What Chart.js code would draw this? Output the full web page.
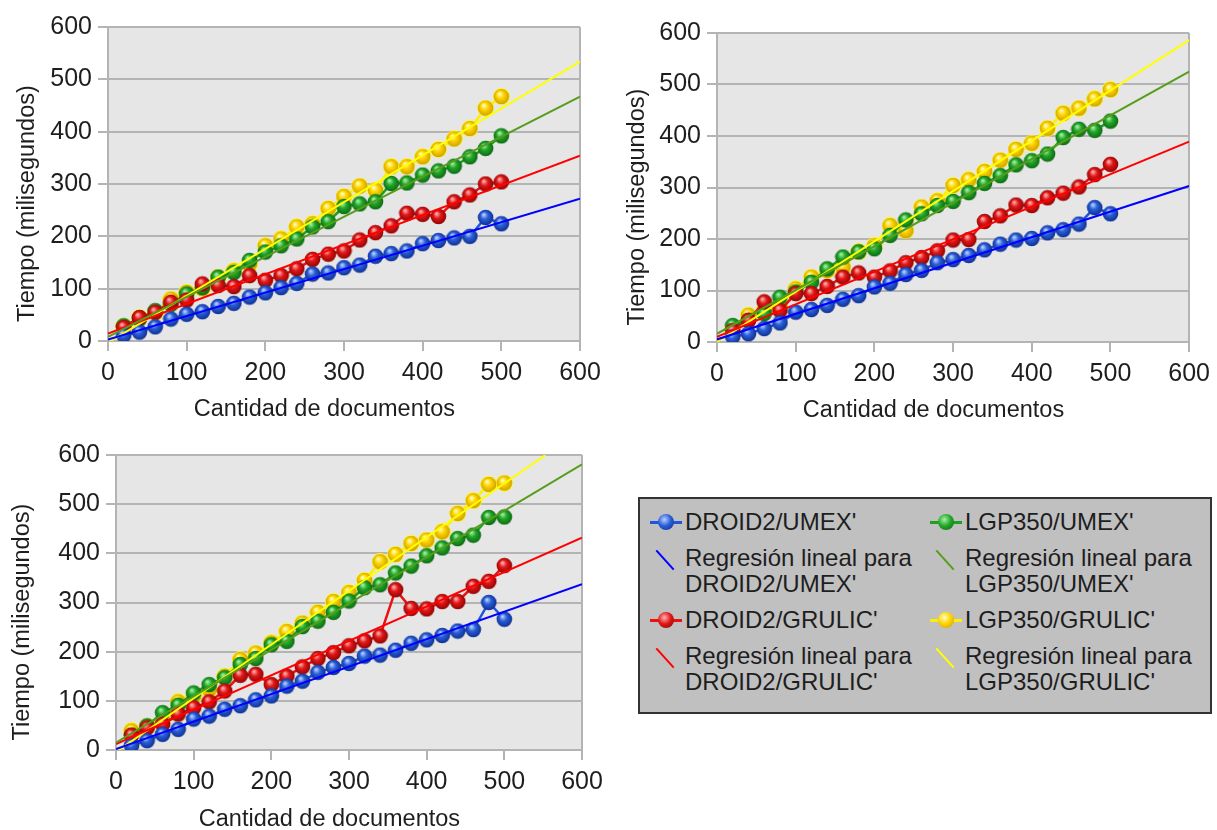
<!DOCTYPE html>
<html>
<head>
<meta charset="utf-8">
<script src="https://cdn.jsdelivr.net/npm/chart.js@4.4.1/dist/chart.umd.min.js"></script>
<style>
  body { margin: 0; background: #fff; width: 1217px; height: 830px; overflow: hidden; position: relative; font-family: "Liberation Sans", Arial, sans-serif; }
  .box { position: absolute; }
  #legend { position: absolute; left: 638px; top: 497px; width: 570px; height: 213px; background: #c0c0c0; border: 2px solid #333; }
  .item { position: absolute; font-size: 24px; line-height: 26px; color: #1e1e1e; white-space: nowrap; }
  .mk { position: absolute; }
</style>
</head>
<body>
<div class="box" style="left:0;top:0"><canvas id="c1" width="610" height="430"></canvas></div>
<div class="box" style="left:610px;top:0"><canvas id="c2" width="607" height="430"></canvas></div>
<div class="box" style="left:0;top:425px"><canvas id="c3" width="610" height="410"></canvas></div>
<div id="legend"></div>
<script>
// cantidad de documentos (eje x)
const xDocs = [20, 40, 60, 80, 100, 120, 140, 160, 180, 200, 220, 240, 260, 280, 300, 320, 340, 360, 380, 400, 420, 440, 460, 480, 500];

// grafico 1
const c1DroidUmex   = [11, 17, 27, 42, 51, 56, 66, 72, 84, 92, 102, 110, 128, 130, 140, 145, 162, 167, 172, 186, 192, 197, 200, 236, 224];
const c1DroidGrulic = [26, 45, 55, 74, 78, 109, 106, 104, 125, 116, 125, 138, 156, 166, 172, 193, 207, 220, 244, 242, 238, 266, 279, 300, 304];
const c1LgpUmex     = [29, 42, 58, 70, 90, 102, 122, 131, 154, 170, 182, 195, 218, 228, 257, 262, 266, 301, 302, 317, 325, 334, 352, 368, 392];
const c1LgpGrulic   = [28, 45, 54, 80, 93, 100, 122, 134, 147, 182, 195, 218, 224, 253, 276, 296, 288, 333, 333, 352, 366, 386, 406, 445, 467];

// grafico 2
const c2DroidUmex   = [10, 16, 26, 37, 58, 63, 71, 83, 90, 107, 114, 131, 139, 154, 160, 168, 179, 190, 198, 201, 212, 218, 229, 261, 249];
const c2DroidGrulic = [22, 42, 78, 61, 94, 94, 108, 126, 134, 126, 138, 154, 164, 177, 198, 199, 234, 245, 266, 265, 280, 289, 301, 325, 345];
const c2LgpUmex     = [32, 42, 55, 87, 97, 116, 142, 165, 175, 181, 207, 237, 249, 265, 273, 290, 308, 323, 344, 352, 365, 397, 413, 411, 429];
const c2LgpGrulic   = [25, 52, 61, 71, 103, 126, 139, 145, 175, 187, 226, 216, 262, 274, 304, 315, 331, 353, 374, 386, 415, 444, 454, 472, 490];

// grafico 3
const c3DroidUmex   = [9, 19, 32, 42, 63, 69, 83, 90, 102, 110, 130, 140, 158, 168, 176, 191, 193, 203, 217, 224, 233, 242, 245, 300, 266];
const c3DroidGrulic = [30, 45, 52, 73, 86, 98, 120, 152, 154, 133, 150, 169, 186, 198, 212, 222, 232, 326, 288, 287, 302, 302, 333, 343, 375];
const c3LgpUmex     = [30, 49, 76, 91, 116, 133, 147, 174, 186, 214, 221, 251, 262, 280, 303, 330, 336, 360, 374, 395, 411, 430, 437, 473, 474];
const c3LgpGrulic   = [39, 48, 60, 98, 110, 123, 150, 184, 197, 218, 241, 258, 280, 302, 320, 345, 383, 398, 420, 427, 444, 481, 507, 540, 543];

// regresion lineal: extremos
const regX = [0, 600];
const c1RegDroidUmex = [3, 272];
const c1RegDroidGrulic = [14, 354];
const c1RegLgpUmex = [8, 467];
const c1RegLgpGrulic = [-3, 534];
const c2RegDroidUmex = [5, 303];
const c2RegDroidGrulic = [10, 389];
const c2RegLgpUmex = [16, 525];
const c2RegLgpGrulic = [0, 586];
const c3RegDroidUmex = [2, 337];
const c3RegDroidGrulic = [12, 432];
const c3RegLgpUmex = [15, 581];
const c3RegLgpGrulicX = [0, 553];
const c3RegLgpGrulic = [-4, 600];

const labels = ["DROID2/UMEX'", "LGP350/UMEX'", "DROID2/GRULIC'", "LGP350/GRULIC'"];
// los espacios finales desplazan los titulos como en el original
const pad6 = '\u00a0\u00a0\u00a0\u00a0\u00a0\u00a0';
const xTitle = 'Cantidad de documentos' + pad6;
const yTitle = 'Tiempo (milisegundos)' + pad6;

const gridGray = '#b4b4b4';
const textColor = '#1e1e1e';
const tickFont = { family: 'Liberation Sans', size: 25 };
const titleFont = { family: 'Liberation Sans', size: 23.5 };

// colores: [base, claro, oscuro, linea serie, linea regresion]
const colBlue = ['#2a5fd8', '#b8d0ff', '#0b2a8a', '#1f55e0', '#0000ff'];
const colRed = ['#e01818', '#ffb0b0', '#8a0000', '#ee1010', '#ff0000'];
const colGreen = ['#22a82a', '#a8f0a8', '#0a620e', '#1ea020', '#579d1c'];
const colYellow = ['#ffd400', '#ffffc0', '#c89a00', '#ffee00', '#ffff00'];

function makeBall(c) {
  const cv = document.createElement('canvas');
  cv.width = 17; cv.height = 17;
  const g = cv.getContext('2d');
  if (c === colYellow) {
    g.fillStyle = '#ffff30';
    g.beginPath(); g.arc(8.5, 8.5, 8.5, 0, Math.PI * 2); g.fill();
  }
  const grad = g.createRadialGradient(6.5, 5.5, 0.5, 8.5, 8.5, 8.5);
  grad.addColorStop(0, c[1]);
  grad.addColorStop(0.4, c[0]);
  grad.addColorStop(1, c[2]);
  g.fillStyle = grad;
  g.beginPath(); g.arc(8.5, 8.5, 7.8, 0, Math.PI * 2); g.fill();
  return cv;
}

function pts(xs, ys) {
  return xs.map((x, i) => ({ x: x, y: ys[i] }));
}

function serie(ys, c, order) {
  return {
    data: pts(xDocs, ys),
    borderColor: c[3],
    borderWidth: 2.5,
    pointStyle: makeBall(c),
    pointRadius: 8,
    showLine: true,
    order: order
  };
}

function reg(xs, ys, c) {
  return {
    data: pts(xs, ys),
    borderColor: c[4],
    borderWidth: 2,
    pointRadius: 0,
    showLine: true,
    order: 0
  };
}

const bgPlugin = {
  id: 'bg',
  beforeDraw(chart) {
    const a = chart.chartArea;
    const ctx = chart.ctx;
    ctx.save();
    ctx.fillStyle = '#e6e6e6';
    ctx.fillRect(a.left, a.top, a.right - a.left, a.bottom - a.top);
    ctx.restore();
  }
};

function makeChart(id, datasets, lay) {
  return new Chart(document.getElementById(id), {
    type: 'scatter',
    data: { datasets: datasets },
    plugins: [bgPlugin],
    options: {
      responsive: false,
      animation: false,
      devicePixelRatio: 1,
      layout: { padding: { top: lay.top, right: lay.right, left: 0, bottom: 0 } },
      plugins: { legend: { display: false }, tooltip: { enabled: false } },
      scales: {
        x: {
          type: 'linear', min: 0, max: 600,
          ticks: { stepSize: 100, font: tickFont, color: textColor, padding: 7 },
          grid: {
            color: c => (c.tick && c.tick.value === 600) ? gridGray : 'transparent',
            tickColor: gridGray, tickLength: 10, lineWidth: 2
          },
          border: { color: gridGray, width: 2 },
          title: { display: true, text: xTitle, font: titleFont, color: textColor, padding: { top: 2, bottom: lay.xtb } },
          afterFit: s => { s.height = lay.xh; }
        },
        y: {
          min: 0, max: 600,
          ticks: { stepSize: 100, font: tickFont, color: textColor, padding: 6 },
          grid: { color: gridGray, tickColor: gridGray, tickLength: 10, lineWidth: 2 },
          border: { color: gridGray, width: 2 },
          title: { display: true, text: yTitle, font: titleFont, color: textColor, padding: { top: lay.ytp, bottom: 0 } },
          afterFit: s => { s.width = lay.yw; }
        }
      }
    }
  });
}

makeChart('c1', [
  reg(regX, c1RegDroidUmex, colBlue),
  reg(regX, c1RegLgpUmex, colGreen),
  reg(regX, c1RegDroidGrulic, colRed),
  reg(regX, c1RegLgpGrulic, colYellow),
  serie(c1DroidUmex, colBlue, 1),
  serie(c1DroidGrulic, colRed, 2),
  serie(c1LgpUmex, colGreen, 3),
  serie(c1LgpGrulic, colYellow, 4)
], { top: 27, right: 30, xh: 89, yw: 108, xtb: 6, ytp: 13 });

makeChart('c2', [
  reg(regX, c2RegDroidUmex, colBlue),
  reg(regX, c2RegLgpUmex, colGreen),
  reg(regX, c2RegDroidGrulic, colRed),
  reg(regX, c2RegLgpGrulic, colYellow),
  serie(c2DroidUmex, colBlue, 1),
  serie(c2DroidGrulic, colRed, 2),
  serie(c2LgpUmex, colGreen, 3),
  serie(c2LgpGrulic, colYellow, 4)
], { top: 33, right: 27, xh: 88, yw: 107, xtb: 5, ytp: 13 });

makeChart('c3', [
  reg(regX, c3RegDroidUmex, colBlue),
  reg(regX, c3RegLgpUmex, colGreen),
  reg(regX, c3RegDroidGrulic, colRed),
  reg(c3RegLgpGrulicX, c3RegLgpGrulic, colYellow),
  serie(c3DroidUmex, colBlue, 1),
  serie(c3DroidGrulic, colRed, 2),
  serie(c3LgpUmex, colGreen, 3),
  serie(c3LgpGrulic, colYellow, 4)
], { top: 30, right: 28, xh: 85, yw: 116, xtb: 1, ytp: 8 });

// leyenda
const legend = document.getElementById('legend');
const cols = [colBlue, colGreen, colRed, colYellow];
const colX = [10, 290];
const rowY = [10, 108];
function ballCss(c) {
  return 'radial-gradient(circle at 40% 35%, ' + c[1] + ' 0%, ' + c[0] + ' 45%, ' + c[2] + ' 100%)';
}
labels.forEach((name, i) => {
  const cx = colX[i % 2];
  const ry = rowY[Math.floor(i / 2)];
  const c = cols[i];
  // serie
  const it = document.createElement('div');
  it.className = 'item';
  it.style.left = (cx + 35) + 'px';
  it.style.top = ry + 'px';
  it.textContent = name;
  legend.appendChild(it);
  const ln = document.createElement('div');
  ln.className = 'mk';
  ln.style.cssText = 'left:' + cx + 'px;top:' + (ry + 12) + 'px;width:32px;height:3px;background:' + c[3];
  legend.appendChild(ln);
  const b = document.createElement('div');
  b.className = 'mk';
  b.style.cssText = 'left:' + (cx + 8) + 'px;top:' + (ry + 5) + 'px;width:16px;height:16px;border-radius:50%;background:' + ballCss(c);
  legend.appendChild(b);
  // regresion
  const it2 = document.createElement('div');
  it2.className = 'item';
  it2.style.left = (cx + 35) + 'px';
  it2.style.top = (ry + 36) + 'px';
  it2.innerHTML = 'Regresión lineal para<br>' + name;
  legend.appendChild(it2);
  const d = document.createElement('div');
  d.className = 'mk';
  d.style.cssText = 'left:' + (cx + 2) + 'px;top:' + (ry + 50) + 'px;width:26px;height:2px;background:' + c[4] + ';transform:rotate(48deg);';
  legend.appendChild(d);
});
</script>
</body>
</html>
